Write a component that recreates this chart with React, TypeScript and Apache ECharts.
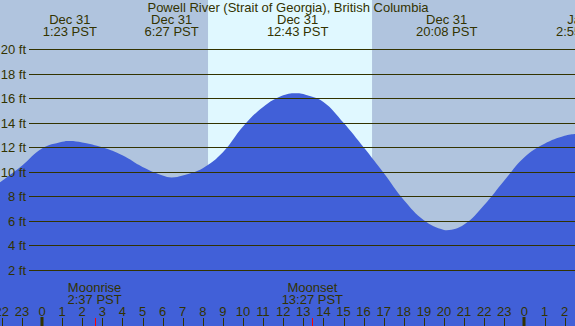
import React, { useEffect, useRef } from "react";
import * as echarts from "echarts";

const TITLE = "Powell River (Strait of Georgia), British Columbia";

// tide curve (hours from Dec 31 00:00 PST, feet)
const tideHours = [-2.1, -2, -1, 0, 1, 1.383, 2, 3, 4, 5, 6, 6.45, 7, 8, 9, 10, 11, 12, 12.717, 13, 14, 15, 16, 17, 18, 19, 20, 20.133, 21, 22, 23, 24, 25, 26, 26.55];
const tideFeet = [9.15, 9.25, 10.5, 11.9, 12.45, 12.52, 12.4, 12.0, 11.35, 10.4, 9.7, 9.55, 9.7, 10.3, 11.6, 13.7, 15.3, 16.25, 16.42, 16.35, 15.7, 14.0, 12.0, 9.9, 7.7, 6.05, 5.27, 5.25, 5.7, 7.3, 9.3, 11.2, 12.3, 12.95, 13.1];

const extremeHours = [1.383, 6.45, 12.717, 20.133, 26.917];
const extremeDates = ["Dec 31", "Dec 31", "Dec 31", "Dec 31", "Jan 1"];
const extremeTimes = ["1:23 PST", "6:27 PST", "12:43 PST", "20:08 PST", "2:55 PST"];

const moonHours = [2.617, 13.45];
const moonLabels = ["Moonrise", "Moonset"];
const moonTimes = ["2:37 PST", "13:27 PST"];

const sunriseHour = 8.26;
const sunsetHour = 16.42;

const feetTicks = [2, 4, 6, 8, 10, 12, 14, 16, 18, 20];
const hourTicks = [-2, -1, 0, 1, 2, 3, 4, 5, 6, 7, 8, 9, 10, 11, 12, 13, 14, 15, 16, 17, 18, 19, 20, 21, 22, 23, 24, 25, 26];

const X_MIN = -2.0896;
const X_MAX = 26.517;
const Y_MIN = -2.569;
const Y_MAX = 24.02;

const FONT = "'Liberation Sans', Arial, sans-serif";
const INK = "#333300";

export default function App() {
  const ref = useRef<HTMLDivElement>(null);
  useEffect(() => {
    document.body.style.margin = "0";
    const chart = echarts.init(ref.current!, null, { renderer: "svg" });
    chart.setOption({
      animation: false,
      grid: { left: 0, right: 0, top: 0, bottom: 0, show: true, backgroundColor: "#b0c4de", borderWidth: 0 },
      xAxis: { type: "value", min: X_MIN, max: X_MAX, show: false },
      yAxis: { type: "value", min: Y_MIN, max: Y_MAX, show: false },
      series: [
        {
          type: "line",
          z: 1,
          data: [[sunriseHour, Y_MAX], [sunsetHour, Y_MAX]],
          symbol: "none",
          lineStyle: { width: 0 },
          areaStyle: { color: "#e0f8ff", opacity: 1, origin: "start" },
          silent: true,
        },
        {
          type: "line",
          z: 2,
          data: tideHours.map((h, i) => [h, tideFeet[i]]),
          smooth: 0.4,
          symbol: "none",
          lineStyle: { width: 0 },
          areaStyle: { color: "#4160d8", opacity: 1, origin: "start" },
          silent: true,
        },
      ],
    });

    const px = (h: number, v: number) => chart.convertToPixel({ gridIndex: 0 }, [h, v]) as number[];
    const els: any[] = [];
    const textStyle = (text: string, x: number, y: number, align = "center") => ({
      type: "text",
      z: 100,
      style: { text, x, y, align, verticalAlign: "middle", fill: INK, font: `13px ${FONT}` },
    });

    const lineStartX = 29;
    feetTicks.forEach((f) => {
      const y = Math.round(px(0, f)[1]) + 0.5;
      els.push({ type: "line", z: 100, shape: { x1: lineStartX, y1: y, x2: 575, y2: y }, style: { stroke: INK, lineWidth: 1 } });
      els.push(textStyle(`${f} ft`, 26, y, "right"));
    });

    els.push(textStyle(TITLE, 288, 7.5));
    extremeHours.forEach((h, i) => {
      const x = px(h, 0)[0];
      els.push(textStyle(extremeDates[i], x, 19.5));
      els.push(textStyle(extremeTimes[i], x, 31.5));
    });

    moonHours.forEach((h, i) => {
      const x = px(h, 0)[0];
      els.push(textStyle(moonLabels[i], x, 287.5));
      els.push(textStyle(moonTimes[i], x, 299.5));
      const xr = Math.round(x) + 0.5;
      els.push({ type: "line", z: 101, shape: { x1: xr, y1: 318, x2: xr, y2: 326 }, style: { stroke: "#ff0000", lineWidth: 1 } });
    });

    hourTicks.forEach((h) => {
      const x = px(h, 0)[0];
      const label = String(((h % 24) + 24) % 24);
      els.push(textStyle(label, x, 311.5));
      const midnight = label === "0";
      const xr = Math.round(x) + (midnight ? 0 : 0.5);
      els.push({
        type: "line",
        z: 100,
        shape: { x1: xr, y1: midnight ? 317 : 318, x2: xr, y2: 326 },
        style: { stroke: INK, lineWidth: midnight ? 3 : 1 },
      });
    });

    chart.setOption({ graphic: { elements: els } });
    return () => chart.dispose();
  }, []);
  return <div ref={ref} style={{ width: 575, height: 326 }} />;
}
